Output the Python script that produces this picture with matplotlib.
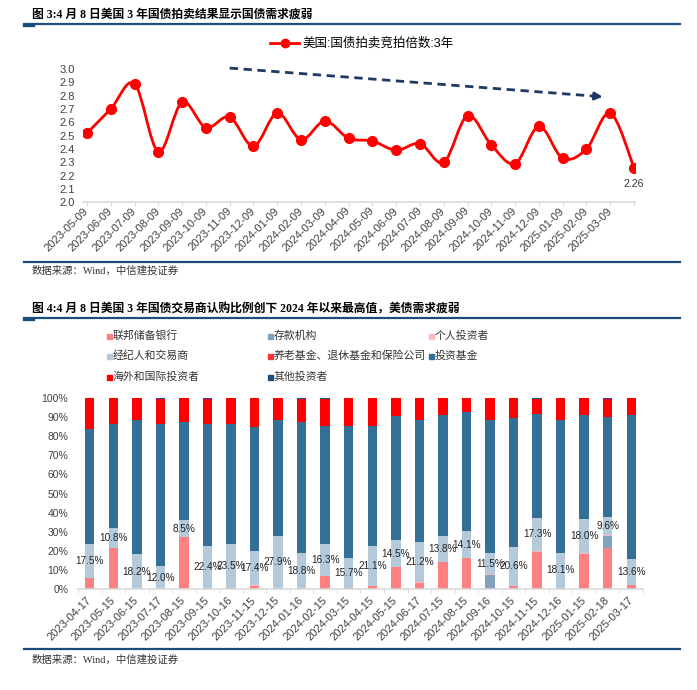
import matplotlib
matplotlib.use('Agg')
import matplotlib.pyplot as plt
from matplotlib.path import Path
from matplotlib.patches import PathPatch, Rectangle
from matplotlib.lines import Line2D
import numpy as np

plt.rcParams['font.family'] = ['Liberation Sans', 'Noto Sans CJK SC']
plt.rcParams['axes.unicode_minus'] = False

# 图3 数据：3年期国债拍卖竞拍倍数
auction_dates = ['2023-05-09', '2023-06-09', '2023-07-09', '2023-08-09', '2023-09-09', '2023-10-09',
                 '2023-11-09', '2023-12-09', '2024-01-09', '2024-02-09', '2024-03-09', '2024-04-09',
                 '2024-05-09', '2024-06-09', '2024-07-09', '2024-08-09', '2024-09-09', '2024-10-09',
                 '2024-11-09', '2024-12-09', '2025-01-09', '2025-02-09', '2025-03-09', '2025-04-08']
bid_to_cover = [2.52, 2.70, 2.89, 2.38, 2.75, 2.56, 2.64, 2.42, 2.67, 2.47, 2.61, 2.48,
                2.46, 2.39, 2.44, 2.30, 2.65, 2.43, 2.29, 2.57, 2.33, 2.40, 2.67, 2.26]
line_label = '美国:国债拍卖竞拍倍数:3年'

# 图4 数据：各类投资者认购占比(%)
alloc_dates = ['2023-04-17', '2023-05-15', '2023-06-15', '2023-07-17', '2023-08-15', '2023-09-15',
               '2023-10-16', '2023-11-15', '2023-12-15', '2024-01-16', '2024-02-15', '2024-03-15',
               '2024-04-15', '2024-05-15', '2024-06-17', '2024-07-15', '2024-08-15', '2024-09-16',
               '2024-10-15', '2024-11-15', '2024-12-16', '2025-01-15', '2025-02-18', '2025-03-17']
fed = [6.0, 21.3, 0.0, 0.0, 27.4, 0.3, 0.3, 1.8, 0.0, 0.0, 6.6, 0.3,
       1.5, 11.3, 3.3, 14.1, 16.2, 0.5, 1.4, 19.3, 0.5, 18.5, 21.4, 2.0]
depository = [0, 0, 0, 0, 0, 0, 0, 0, 0, 0, 0, 0,
              0, 0, 0, 0, 0, 6.7, 0, 0, 0, 0, 6.2, 0]
individual = [0, 0, 0, 0, 0, 0, 0, 0.5, 0, 0.2, 0.4, 0,
              0, 0, 0.3, 0, 0, 0.4, 0.2, 0.8, 0.2, 0.2, 0.6, 0]
dealer = [17.5, 10.8, 18.2, 12.0, 8.5, 22.4, 23.5, 17.4, 27.9, 18.8, 16.3, 15.7,
          21.1, 14.5, 21.2, 13.8, 14.1, 11.5, 20.6, 17.3, 18.1, 18.0, 9.6, 13.6]
pension = [0, 0, 0.3, 0, 0, 0, 0, 0, 0, 0, 0, 0,
           0, 0, 0, 0, 0, 0, 0, 0, 0, 0, 0, 0]
inv_funds = [60.5, 54.2, 70.0, 74.3, 51.6, 63.6, 62.8, 65.3, 60.4, 68.3, 61.9, 69.4,
             62.8, 64.8, 63.7, 63.1, 62.4, 69.4, 67.4, 54.3, 69.5, 54.3, 52.4, 75.7]
foreign = [16.0, 13.7, 11.5, 13.4, 12.5, 13.4, 13.4, 15.0, 11.7, 12.4, 14.5, 14.6,
           14.6, 9.4, 11.5, 9.0, 7.3, 11.5, 10.4, 8.0, 11.7, 9.0, 9.5, 8.7]
other = [0, 0, 0, 0.3, 0, 0.3, 0, 0, 0, 0.3, 0.3, 0,
         0, 0, 0, 0, 0, 0, 0, 0.3, 0, 0, 0.3, 0]
series_names = ['联邦储备银行', '存款机构', '个人投资者', '经纪人和交易商',
                '养老基金、退休基金和保险公司', '投资基金', '海外和国际投资者', '其他投资者']
series_colors = ['#FF8080', '#7FA2BE', '#FFB8B8', '#B4C9DA', '#FF3030', '#336F97', '#FF0000', '#1B4F7E']

W, H = 697, 690
fig = plt.figure(figsize=(W / 100, H / 100), dpi=100)


def fx(px):
    return px / W


def fy(py):
    return 1 - py / H


navy = '#1A4D7C'
tick_color = '#404040'
axis_gray = '#D9D9D9'


def header(title, y_title, y_line):
    fig.text(fx(32), fy(y_title), title, fontsize=8.5, fontweight='bold', va='center',
             family=['Liberation Serif', 'Noto Sans CJK SC'])
    fig.add_artist(Line2D([fx(24), fx(680)], [fy(y_line), fy(y_line)], color=navy, lw=1.6))
    fig.add_artist(Line2D([fx(24), fx(33)], [fy(y_line + 1), fy(y_line + 1)], color=navy, lw=2.4))


def footer(y_line, y_text):
    fig.add_artist(Line2D([fx(24), fx(680)], [fy(y_line), fy(y_line)], color=navy, lw=1.6))
    fig.text(fx(32), fy(y_text), '数据来源：Wind，中信建投证券', fontsize=7.5, va='center',
             color='#333333', family=['Liberation Serif', 'Noto Sans CJK SC'])


# ---------------- 图3 ----------------
header('图 3:4 月 8 日美国 3 年国债拍卖结果显示国债需求疲弱', 15, 24)

ax1 = fig.add_axes([fx(83.4), fy(202.3), fx(634.5) - fx(83.4), (202.3 - 69) / H])
x1 = np.arange(len(bid_to_cover))


def smooth_path(xs, ys):
    # 类似 Excel 平滑线的贝塞尔曲线
    verts = [(xs[0], ys[0])]
    codes = [Path.MOVETO]
    n = len(xs)
    for i in range(n - 1):
        p0 = (xs[i - 1], ys[i - 1]) if i > 0 else (xs[i], ys[i])
        p1 = (xs[i], ys[i])
        p2 = (xs[i + 1], ys[i + 1])
        p3 = (xs[i + 2], ys[i + 2]) if i + 2 < n else p2
        c1 = (p1[0] + (p2[0] - p0[0]) / 6, p1[1] + (p2[1] - p0[1]) / 6)
        c2 = (p2[0] - (p3[0] - p1[0]) / 6, p2[1] - (p3[1] - p1[1]) / 6)
        verts += [c1, c2, p2]
        codes += [Path.CURVE4] * 3
    return Path(verts, codes)


ax1.add_patch(PathPatch(smooth_path(x1, bid_to_cover), fill=False, edgecolor='#FF0000', lw=2))
ax1.plot(x1, bid_to_cover, 'o', color='#FF0000', ms=7, zorder=3)
ax1.annotate(f'{bid_to_cover[-1]:.2f}', (x1[-1], bid_to_cover[-1]), xytext=(0, -11.5),
             textcoords='offset points', ha='center', va='center', fontsize=7.5, color='#333333')

# 下降趋势箭头
arrow_start = (6.0, 3.007)
arrow_end = (21.8, 2.79)
ax1.plot([arrow_start[0], arrow_end[0] - 0.4], [arrow_start[1], arrow_end[1] + 0.0055],
         color='#1F3864', lw=2, dashes=(3, 2), clip_on=False)
ax1.annotate('', xy=arrow_end, xytext=(arrow_end[0] - 0.5, arrow_end[1] + 0.007),
             arrowprops=dict(arrowstyle='-|>', color='#1F3864', lw=2, mutation_scale=11),
             annotation_clip=False)

ax1.set_xlim(-0.15, 23.02)
ax1.set_ylim(2.0, 3.0)
ax1.set_yticks(np.arange(2.0, 3.01, 0.1))
ax1.set_yticklabels([f'{v:.1f}' for v in np.arange(2.0, 3.01, 0.1)])
ax1.set_xticks(x1)
ax1.set_xticklabels(auction_dates[:-1] + [''], rotation=45, ha='right', va='center',
                    rotation_mode='anchor')
ax1.tick_params(axis='y', length=0, pad=6, labelsize=8, labelcolor=tick_color)
ax1.tick_params(axis='x', length=3, color=axis_gray, pad=2, labelsize=8, labelcolor=tick_color)
for s in ['top', 'right', 'left']:
    ax1.spines[s].set_visible(False)
ax1.spines['bottom'].set_color(axis_gray)
ax1.spines['bottom'].set_linewidth(1.2)

leg_handle = Line2D([], [], color='#FF0000', lw=2, marker='o', ms=6)
fig.legend([leg_handle], [line_label], loc='center left', bbox_to_anchor=(fx(264), fy(44)),
           frameon=False, fontsize=9, handlelength=2.3, handletextpad=0.3, borderpad=0)

footer(262, 271)

# ---------------- 图4 ----------------
header('图 4:4 月 8 日美国 3 年国债交易商认购比例创下 2024 年以来最高值，美债需求疲弱', 309, 318)

ax2 = fig.add_axes([fx(78), fy(589), fx(643) - fx(78), (589 - 398) / H])
x2 = np.arange(len(alloc_dates))
all_series = [fed, depository, individual, dealer, pension, inv_funds, foreign, other]
bottom = np.zeros(len(x2))
for k, (vals, c) in enumerate(zip(all_series, series_colors)):
    vals = np.array(vals, dtype=float)
    ax2.bar(x2, vals, 0.4, bottom=bottom, color=c, linewidth=0)
    if k == 3:
        # 经纪人和交易商的数据标签
        for i in range(len(x2)):
            ax2.text(x2[i], bottom[i] + vals[i] / 2, f'{vals[i]:.1f}%', ha='center', va='center',
                     fontsize=7.2, color='#222222')
    bottom += vals

ax2.set_xlim(-0.5, 23.5)
ax2.set_ylim(0, 100)
ax2.set_yticks(np.arange(0, 101, 10))
ax2.set_yticklabels([f'{v}%' for v in range(0, 101, 10)])
ax2.set_xticks(x2)
ax2.set_xticklabels(alloc_dates, rotation=45, ha='right', va='center', rotation_mode='anchor')
ax2.set_xticks(np.arange(-0.5, 23.6, 1), minor=True)
ax2.tick_params(axis='y', length=0, pad=7, labelsize=7.5, labelcolor=tick_color)
ax2.tick_params(axis='x', which='major', length=0, pad=7, labelsize=8, labelcolor=tick_color)
ax2.tick_params(axis='x', which='minor', length=3, color=axis_gray)
for s in ['top', 'right', 'left']:
    ax2.spines[s].set_visible(False)
ax2.spines['bottom'].set_color(axis_gray)
ax2.spines['bottom'].set_linewidth(1.2)

# 图例：三列
col_x = [109, 270, 431]
row_y = [336, 356, 377]
for k, (name, c) in enumerate(zip(series_names, series_colors)):
    r, col = divmod(k, 3)
    mx, my = col_x[col], row_y[r]
    fig.add_artist(Rectangle((fx(mx - 2.5), fy(my + 2.5)), 5 / W, 5 / H, color=c,
                             transform=fig.transFigure))
    fig.text(fx(mx + 4), fy(my), name, fontsize=7.8, va='center', color='#333333')

footer(649, 660)

fig.savefig('out.png', dpi=100)
